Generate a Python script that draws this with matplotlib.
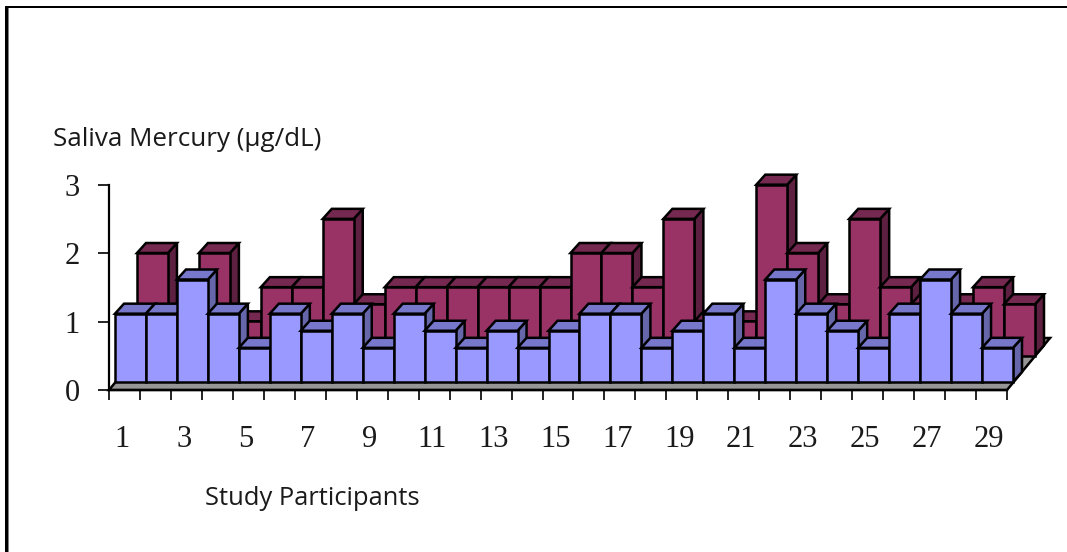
import matplotlib
matplotlib.use("Agg")
import matplotlib.pyplot as plt
from matplotlib.patches import Polygon, Rectangle

participants = list(range(1, 30))
front_values = [1, 1, 1.5, 1, 0.5, 1, 0.75, 1, 0.5, 1, 0.75, 0.5, 0.75, 0.5, 0.75,
                1, 1, 0.5, 0.75, 1, 0.5, 1.5, 1, 0.75, 0.5, 1, 1.5, 1, 0.5]
back_values = [1.5, 0.5, 1.5, 0.5, 1, 1, 2, 0.75, 1, 1, 1, 1, 1, 1, 1.5,
               1.5, 1, 2, 0.5, 0.5, 2.5, 1.5, 0.75, 2, 1, 0.75, 0.75, 1, 0.75]
y_ticks = [0, 1, 2, 3]
y_title = "Saliva Mercury (µg/dL)"
x_title = "Study Participants"

W, H = 1067, 552
PX_X = 898 / 29        # pixels per category
PX_Y = 205 / 3         # pixels per unit
fig = plt.figure(figsize=(W / 100, H / 100), dpi=100, facecolor="white")
ax = fig.add_axes([109 / W, 1 - 390 / H, 898 / W, 205 / H])
ax.set_xlim(0, 29)
ax.set_ylim(0, 3)
ax.patch.set_visible(False)

LW = 1.8
capx, capy = 9 / PX_X, 10 / PX_Y


def poly(pts, color, z):
    ax.add_patch(Polygon(pts, closed=True, facecolor=color, edgecolor="black", lw=LW,
                         joinstyle="miter", clip_on=False, zorder=z))


def bars(values, ox, oy, face, side, top, z0):
    for i, v in enumerate(values):
        x0, x1 = i + ox, i + 1 + ox
        y0, y1 = oy, oy + v
        z = z0 + i * 0.01
        poly([(x1, y0), (x1 + capx, y0 + capy), (x1 + capx, y1 + capy), (x1, y1)], side, z)
        poly([(x0, y1), (x1, y1), (x1 + capx, y1 + capy), (x0 + capx, y1 + capy)], top, z)
        poly([(x0, y0), (x1, y0), (x1, y1), (x0, y1)], face, z)


# floor
n = len(participants)
fx, fy = 43 / PX_X, 52 / PX_Y
poly([(0, 0), (n, 0), (n + fx, fy), (fx, fy)], "#969696", 1)

bars(back_values, 28 / PX_X, 34.5 / PX_Y, "#993366", "#5E2040", "#752850", 2)
bars(front_values, 6 / PX_X, 8 / PX_Y, "#9999FF", "#6666AA", "#7777CC", 3)

for s in ("top", "right"):
    ax.spines[s].set_visible(False)
for s in ("left", "bottom"):
    ax.spines[s].set_linewidth(1.6)
    ax.spines[s].set_zorder(5)

serif = "Liberation Serif"
ax.set_yticks(y_ticks)
ax.set_yticklabels([str(v) for v in y_ticks], fontfamily=serif, fontsize=22, color="#1a1a1a")
ax.tick_params(axis="y", length=8, width=1.2, pad=13)
ax.set_xticks(range(0, n + 1))
ax.set_xticklabels([])
ax.tick_params(axis="x", which="major", length=7.5, width=1.2)
odd = participants[::2]
ax.set_xticks([p - 0.58 for p in odd], minor=True)
ax.set_xticklabels([str(p) for p in odd], minor=True, fontfamily=serif, fontsize=22, color="#1a1a1a")
ax.tick_params(axis="x", which="minor", length=0, pad=25)

fig.text(53 / W, 1 - 139.5 / H, y_title, fontfamily="Open Sans", fontsize=18.7, color="#1a1a1a",
         ha="left", va="center")
fig.text(205 / W, 1 - 498.5 / H, x_title, fontfamily="Open Sans", fontsize=18.4, color="#1a1a1a",
         ha="left", va="center")

# picture frame (top and left only)
fig.add_artist(Rectangle((5 / W, 0), 2.6 / W, 1 - 6 / H, transform=fig.transFigure, color="black", lw=0))
fig.add_artist(Rectangle((7.6 / W, 0), 1 / W, 1 - 8 / H, transform=fig.transFigure, color="#808080", lw=0))
fig.add_artist(Rectangle((5 / W, 1 - 8 / H), 1 - 5 / W, 2 / H, transform=fig.transFigure, color="black", lw=0))

fig.savefig("out.png", dpi=100, facecolor="white")
